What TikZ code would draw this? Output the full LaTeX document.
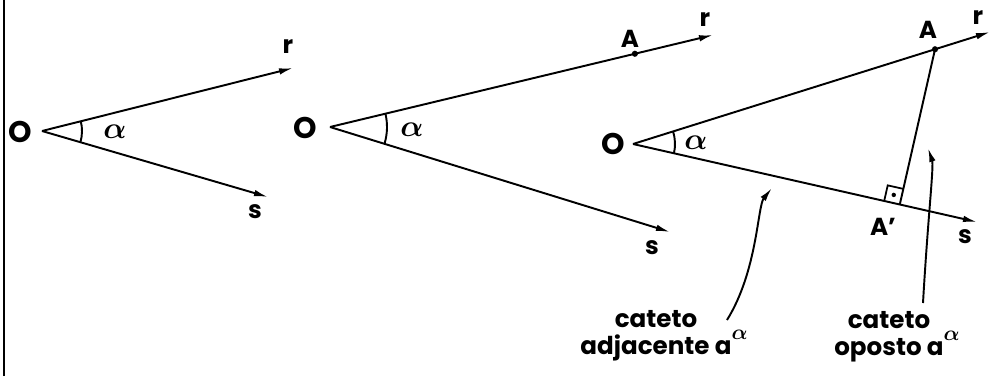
\documentclass[tikz,border=0pt]{standalone}
\usepackage{fontspec}
\usepackage{bm}
\setmainfont{Poppins}
\usetikzlibrary{arrows.meta, calc, angles}
\tikzset{>={Latex[length=2.8mm,width=1.3mm]}}
\tikzset{
	ray/.style={line width=1.1pt, ->},
	lbl/.style={font=\fontsize{14}{15.5}\selectfont\bfseries, inner sep=1pt},
	big/.style={font=\fontsize{17}{17}\selectfont\bfseries, inner sep=1pt},
	pnt/.style={circle, fill, inner sep=0pt, minimum size=3.5pt},
	arc/.style={draw, line width=1.1pt},
}
\newcommand{\alf}{$\bm{\alpha}$}
\newcommand{\supalf}{\rlap{\raisebox{1.1ex}{\fontsize{12}{12}\selectfont$\bm{\alpha}$}}}

\begin{document}
\begin{tikzpicture}
	\useasboundingbox (0,0) rectangle (19.82,7.52);
	% Frame line:
	\draw[line width=1.1pt] (0.08,0) -- (0.08,7.52);
	% First angle:
	\coordinate (O1) at (0.84,4.90);
	\coordinate (r1) at (5.86,6.16);
	\coordinate (s1) at (5.36,3.58);
	\draw[ray] (O1) -- (r1);
	\draw[ray] (O1) -- (s1);
	\pic[arc, angle radius=0.8cm] {angle=s1--O1--r1};
	\node[big] (O1l) at (0.40,4.88) {O};
	\node[lbl] (r1l) at (5.76,6.58) {r};
	\node[lbl] (s1l) at (5.10,3.28) {s};
	\node[big] (a1l) at (2.30,4.88) {\alf};
	% Second angle:
	\coordinate (O2) at (6.60,4.98);
	\coordinate (r2) at (14.26,6.82);
	\coordinate (s2) at (13.40,2.88);
	\draw[ray] (O2) -- (r2);
	\draw[ray] (O2) -- (s2);
	\pic[arc, angle radius=1.14cm] {angle=s2--O2--r2};
	\node[pnt] (A2) at ($(O2)!0.796!(r2)$) {};
	\node[big] (O2l) at (6.10,4.96) {O};
	\node[lbl] (A2l) at (12.60,6.74) {A};
	\node[lbl] (r2l) at (14.10,7.12) {r};
	\node[lbl] (s2l) at (13.04,2.56) {s};
	\node[big] (a2l) at (8.24,4.92) {\alf};
	% Third angle:
	\coordinate (O3) at (12.66,4.64);
	\coordinate (r3) at (19.80,6.88);
	\coordinate (s3) at (19.54,3.08);
	\coordinate (A3) at ($(O3)!0.846!(r3)$);
	\coordinate (Ap) at ($(O3)!(A3)!(s3)$);
	\draw[ray] (O3) -- (r3);
	\draw[ray] (O3) -- (s3);
	\pic[arc, angle radius=0.84cm] {angle=s3--O3--r3};
	\node[pnt] (A3p) at (A3) {};
	\draw[line width=1.1pt] (A3) -- (Ap);
	\coordinate (q1) at ($(Ap)!0.32cm!(O3)$);
	\coordinate (q2) at ($(Ap)!0.32cm!(A3)$);
	\draw[line width=1pt] (q1) -- ($(q1)+(q2)-(Ap)$) -- (q2);
	\node[pnt, minimum size=2.5pt] (rdot) at ($0.5*(q1)+0.5*(q2)$) {};
	\node[big] (O3l) at (12.26,4.64) {O};
	\node[lbl] (A3l) at (18.56,6.92) {A};
	\node[lbl] (Apl) at (17.66,2.98) {A'};
	\node[lbl] (r3l) at (19.56,7.16) {r};
	\node[lbl] (s3l) at (19.30,2.78) {s};
	\node[big] (a3l) at (13.92,4.66) {\alf};
	% Legs and their labels:
	\node[lbl, align=center] (adj) at (13.12,0.80) {cateto\\adjacente a\supalf};
	\node[lbl, align=center] (opo) at (17.78,0.78) {cateto\\oposto a\supalf};
	\coordinate (adjt) at (14.54,1.12);
	\coordinate (adjh) at (15.44,3.76);
	\coordinate (opot) at (18.46,1.46);
	\coordinate (opoh) at (18.56,4.56);
	\draw[ray] (adjt) .. controls (15.15,2.1) and (15.15,3.4) .. (adjh);
	\draw[ray] (opot) .. controls (18.56,3.2) and (18.68,4.2) .. (opoh);
\end{tikzpicture}
\end{document}
